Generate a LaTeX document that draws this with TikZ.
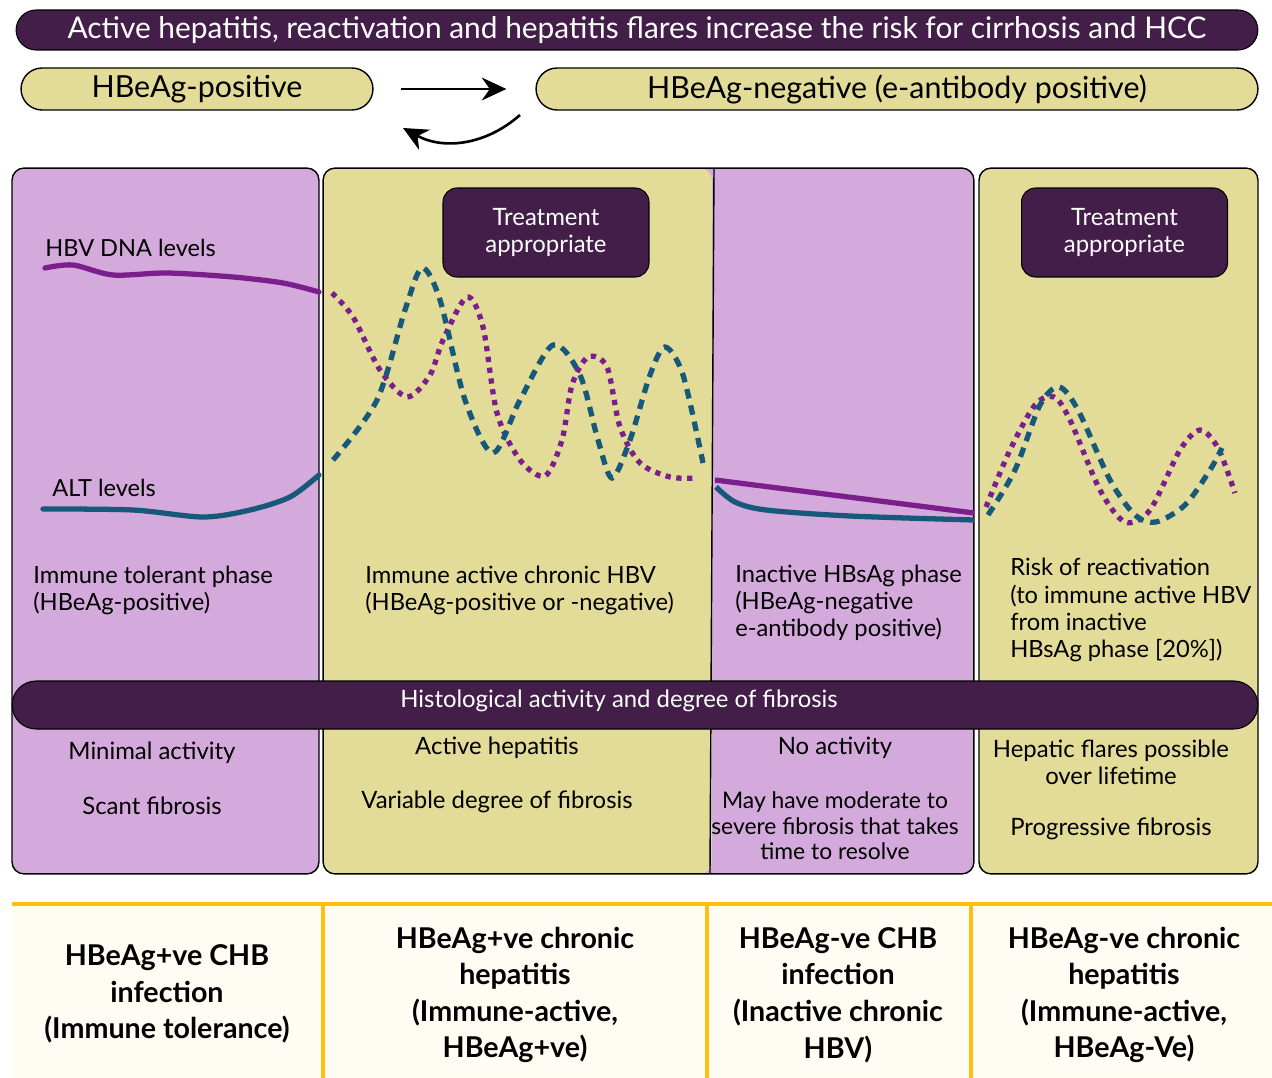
\documentclass[tikz,border=0pt]{standalone}
\usepackage{fontspec}
\setmainfont{Lato}
\usetikzlibrary{
    arrows.meta,
    positioning
}
\definecolor{plum}{HTML}{421E49}
\definecolor{lilac}{HTML}{D4A9DB}
\definecolor{khaki}{HTML}{E3DB98}
\definecolor{dnaline}{HTML}{7A1F8C}
\definecolor{altline}{HTML}{17597A}
\definecolor{gold}{HTML}{FDC00F}
\definecolor{cream}{HTML}{FFFCF3}
\tikzset{
    banner/.style={fill=plum, draw=black, line width=0.6pt, text=white, inner sep=0pt},
    pill/.style={fill=khaki, draw=black, line width=0.8pt, rounded corners=0.42cm,
        minimum height=0.84cm, inner sep=0pt, font=\fontsize{17.3}{20}\selectfont},
    panel/.style={draw=black, line width=0.8pt, rounded corners=0.24cm,
        minimum height=14.12cm, inner sep=0pt},
    treat/.style={banner, rounded corners=0.28cm, minimum width=4.12cm, minimum height=1.78cm,
        align=center, font=\fontsize{13.6}{15.4}\selectfont},
    level/.style={anchor=west, inner sep=0pt, font=\fontsize{13.4}{15.4}\selectfont},
    phase/.style={anchor=west, align=left, inner sep=0pt, font=\fontsize{13.5}{15.4}\selectfont},
    histo/.style={align=center, inner sep=0pt, font=\fontsize{13.6}{15.2}\selectfont},
    stage/.style={align=center, inner sep=0pt, font=\bfseries\fontsize{16.3}{20.8}\selectfont},
    dnacurve/.style={dnaline, line width=3pt, line cap=round},
    altcurve/.style={altline, line width=3pt, line cap=round},
    dnaflare/.style={dnaline, line width=3pt, dash pattern=on 3pt off 3.2pt},
    altflare/.style={altline, line width=3pt, dash pattern=on 5.5pt off 4pt},
    flow/.style={-{Stealth[length=14pt,width=13pt]}, line width=1.5pt},
    goldline/.style={gold, line width=2pt}
}
\begin{document}
\begin{tikzpicture}[x=0.02cm, y=-0.02cm]
    \useasboundingbox[fill=white] (0,0) rectangle (1272,1078);

    \node[banner, rounded corners=0.4cm, minimum width=24.84cm, minimum height=0.8cm,
        font=\fontsize{17}{20}\selectfont] (title) at (637,30)
        {Active hepatitis, reactivation and hepatitis flares increase the risk for cirrhosis and HCC};

    \node[pill, minimum width=7.04cm] (pos) at (197,89) {HBeAg-positive};
    \node[pill, minimum width=14.44cm] (neg) at (897,89) {HBeAg-negative (e-antibody positive)};
    \coordinate (backA) at (520,115);
    \coordinate (backB) at (403,128);
    \draw[flow, shorten <=0.54cm, shorten >=0.58cm] (pos.east) -- (neg.west);
    \draw[flow] (backA) to[bend left=35] (backB);

    \node[panel, fill=lilac, minimum width=6.14cm] (tolerant) at (165.5,521) {};
    \node[panel, fill=lilac, minimum width=13.02cm,
        path picture={\fill[khaki] (path picture bounding box.south west)
            rectangle ([xshift=7.78cm]path picture bounding box.north west);}] (active) at (648.5,521) {};
    \draw[line width=0.8pt] (714,169) -- (710,873);
    \node[panel, fill=khaki, minimum width=5.58cm] (risk) at (1118.5,521) {};

    \draw[dnacurve] plot[smooth] coordinates {(45,268) (73,265) (113,275) (167,273) (233,277) (283,283) (319,292)};
    \draw[altcurve] plot[smooth] coordinates {(43,509) (133,510) (203,517) (250,510) (290,497) (319,475)};
    \draw[dnaflare] plot[smooth] coordinates {(332,293) (353,317) (380,370) (407,397) (430,375) (443,340)
        (467,297) (483,327) (497,413) (520,460) (545,476) (562,440) (572,385) (588,357) (607,367)
        (620,427) (640,463) (670,477) (697,478)};
    \draw[altflare] plot[smooth] coordinates {(333,460) (377,400) (405,310) (422,268) (440,300) (465,400)
        (493,453) (520,400) (553,345) (580,375) (598,440) (612,478) (630,440) (650,375) (665,347)
        (683,375) (703,463)};
    \draw[dnacurve, line cap=butt] (715,480) -- (974,513);
    \draw[altcurve, line cap=butt] plot[smooth] coordinates {(716,487) (735,502) (766,510) (850,516) (974,520)};
    \draw[dnaflare] plot[smooth] coordinates {(986,507) (1010,450) (1035,405) (1054,397) (1070,420)
        (1100,490) (1125,522) (1150,510) (1180,450) (1200,430) (1218,448) (1235,493)};
    \draw[altflare] plot[smooth] coordinates {(988,515) (1015,470) (1040,405) (1059,387) (1078,410)
        (1110,480) (1135,515) (1156,522) (1185,505) (1210,470) (1222,448)};

    \node[level] (dna) at (45,248) {HBV DNA levels};
    \node[level] (alt) at (52,488) {ALT levels};
    \node[treat] (treatA) at (546,232.5) {Treatment\\appropriate};
    \node[treat] (treatB) at (1124.5,232.5) {Treatment\\appropriate};

    \node[phase] (phaseA) at (33,590) {Immune tolerant phase\\(HBeAg-positive)};
    \node[phase] (phaseB) at (365,590) {Immune active chronic HBV\\(HBeAg-positive or -negative)};
    \node[phase] (phaseC) at (735,603) {Inactive HBsAg phase\\(HBeAg-negative\\e-antibody positive)};
    \node[phase] (phaseD) at (1010,610) {Risk of reactivation\\(to immune active HBV\\from inactive\\HBsAg phase [20\%])};

    \node[banner, rounded corners=0.48cm, minimum width=24.92cm, minimum height=0.96cm] (histbar) at (635,705) {};
    \node[histo, text=white] (histtxt) at (619,701) {Histological activity and degree of fibrosis};

    \node[histo] (minact) at (152,753) {Minimal activity};
    \node[histo] (scant) at (152,806) {Scant fibrosis};
    \node[histo] (hepat) at (497,748) {Active hepatitis};
    \node[histo] (vardeg) at (497,802) {Variable degree of fibrosis};
    \node[histo] (noact) at (835,748) {No activity};
    \node[histo, font=\fontsize{13}{14.6}\selectfont] (severe) at (835,826)
        {May have moderate to\\severe fibrosis that takes\\time to resolve};
    \node[histo] (flares) at (1111,762) {Hepatic flares possible\\over lifetime};
    \node[histo] (progfib) at (1111,829) {Progressive fibrosis};

    \fill[cream] (12,906) rectangle (1272,1078);
    \draw[goldline, line width=2.4pt] (12,904) -- (1272,904);
    \draw[goldline] (323,906) -- (323,1078);
    \draw[goldline] (707,906) -- (707,1078);
    \draw[goldline] (971,906) -- (971,1078);
    \node[stage] (stageA) at (167,994) {HBeAg+ve CHB\\infection\\(Immune tolerance)};
    \node[stage] (stageB) at (515,995) {HBeAg+ve chronic\\hepatitis\\(Immune-active,\\HBeAg+ve)};
    \node[stage] (stageC) at (838,995) {HBeAg-ve CHB\\infection\\(Inactive chronic\\HBV)};
    \node[stage] (stageD) at (1124,995) {HBeAg-ve chronic\\hepatitis\\(Immune-active,\\HBeAg-Ve)};
\end{tikzpicture}
\end{document}
